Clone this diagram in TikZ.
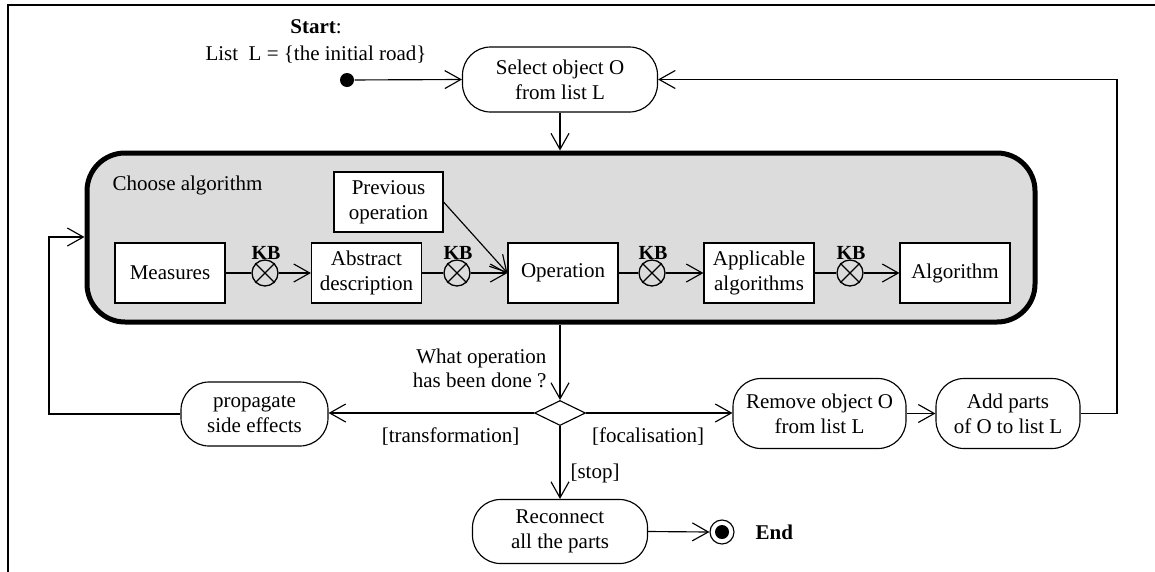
\documentclass[tikz,border=0pt]{standalone}
\usepackage{fontspec}
\setmainfont{Liberation Serif}
\usetikzlibrary{arrows.meta,shapes.geometric}
\definecolor{bg}{RGB}{220,220,220}
\begin{document}
\begin{tikzpicture}[x=1pt,y=-1pt,
  font=\fontsize{21}{25}\selectfont,
  line width=1.15pt,
  arr/.style={-{Straight Barb[length=16pt,width=18pt,line width=1.15pt]}},
  act/.style={draw, rounded corners=28pt, align=center, inner sep=0pt, fill=white},
  box/.style={draw, align=center, inner sep=0pt, fill=white, minimum width=110pt, minimum height=60pt},
  kbc/.style={draw, circle, inner sep=0pt, minimum size=26pt, line width=1.3pt},
  kbl/.style={anchor=base, font=\fontsize{20}{24}\selectfont\bfseries, inner sep=0pt},
  lbl/.style={inner sep=0pt}
]
\useasboundingbox (0,0) rectangle (1155,571);
\draw[line width=1.6pt] (1160,5) -- (8,5) -- (8,576);

% start
\node[lbl, anchor=base] (st1) at (316,33) {\textbf{Start}:};
\node[lbl, anchor=base] (st2) at (316,60) {List\hspace{0.5em}L = \{the initial road\}};
\node[circle, fill, inner sep=0pt, minimum size=14pt] (init) at (347,80) {};

\node[act, minimum width=195pt, minimum height=65pt] (sel) at (560,79.5) {Select object O\\from list L};

% choose algorithm
\node[draw, line width=5pt, rounded corners=38pt, fill=bg, inner sep=0pt,
      minimum width=948pt, minimum height=169pt] (choose) at (561,237.5) {};
\node[lbl, anchor=base west] (chl) at (112,190) {Choose algorithm};

\node[box, minimum width=109pt] (prev) at (388.5,202) {Previous\\operation};
\node[box] (meas) at (170,273) {Measures};
\node[box] (abs) at (366.5,273) {Abstract\\description};
\node[box] (oper) at (563,273) {Operation};
\node[box] (appl) at (759,273) {Applicable\\algorithms};
\node[box] (algo) at (955,273) {Algorithm};

\node[kbc] (k1) at (265,273) {};
\node[kbc] (k2) at (457,273) {};
\node[kbc] (k3) at (652,273) {};
\node[kbc] (k4) at (850,273) {};
\foreach \k in {k1,k2,k3,k4}{
  \draw[line width=1.3pt] (\k.north west) -- (\k.south east) (\k.north east) -- (\k.south west);
}
\node[kbl] (kb1) at (266,259) {KB};
\node[kbl] (kb2) at (458,259) {KB};
\node[kbl] (kb3) at (653,259) {KB};
\node[kbl] (kb4) at (851,259) {KB};

\draw (meas) -- (k1); \draw[arr] (k1) -- (abs);
\draw (abs) -- (k2); \draw[arr] (k2) -- (oper);
\draw (oper) -- (k3); \draw[arr] (k3) -- (appl);
\draw (appl) -- (k4); \draw[arr] (k4) -- (algo);
\draw[arr] (prev.east) -- (oper.west);

\draw[arr] (init) -- (sel.west);
\draw[arr] (sel.south) -- (sel.south |- choose.north);

% decision
\node[diamond, draw, inner sep=0pt, minimum width=51pt, minimum height=25pt, fill=white] (dec) at (560,413) {};
\draw[arr] (dec.north |- choose.south) -- (dec.north);
\node[lbl, anchor=base east] (q1) at (547,363) {What operation};
\node[lbl, anchor=base east] (q2) at (547,387) {has been done ?};

\node[act, minimum width=147pt, minimum height=64pt] (prop) at (254.5,414) {propagate\\side effects};
\node[act, minimum width=173pt, minimum height=70pt] (rem) at (819.5,413.5) {Remove object O\\from list L};
\node[act, minimum width=144pt, minimum height=70pt] (add) at (1008,413.5) {Add parts\\of O to list L};
\node[act, minimum width=175pt, minimum height=64pt] (rec) at (560,531.5) {Reconnect\\all the parts};

\draw[arr] (dec.west) -- (prop.east |- dec.west);
\node[lbl, anchor=base east] (lt) at (520,442) {[transformation]};
\draw[arr] (dec.east) -- (rem.west |- dec.east);
\node[lbl, anchor=base] (lf) at (648,442) {[focalisation]};
\draw[arr] (rem) -- (add);
\draw[arr] (dec.south) -- (rec.north);
\node[lbl, anchor=base west] (ls) at (570,478) {[stop]};

\coordinate (rr) at (1117,79.5);
\draw[arr] (add.east) -| (rr) -- (sel.east);
\coordinate (ll) at (49,237);
\draw[arr] (prop.west) -| (ll) -- (ll -| choose.west);

% end
\node[circle, draw, minimum size=24pt, inner sep=0pt] (end) at (722,532) {};
\node[circle, fill, minimum size=14pt, inner sep=0pt] (endin) at (end) {};
\draw[arr] (rec.east) -- (end.west);
\node[lbl, anchor=west] (endl) at (755,532) {\textbf{End}};
\end{tikzpicture}
\end{document}
